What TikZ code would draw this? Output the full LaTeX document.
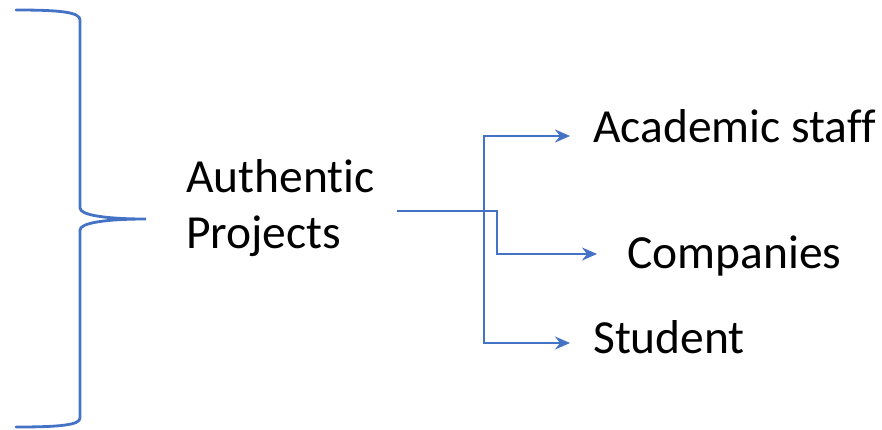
\documentclass[tikz,border=0pt]{standalone}
\usepackage{fontspec}
\setmainfont[Ligatures={NoCommon}]{Carlito}
\usepackage{xcolor}
\usetikzlibrary{arrows.meta,calc}
\definecolor{officeblue}{HTML}{4472C4}
\tikzset{
	lbl/.style={inner sep=0pt, anchor=base west, font=\fontsize{47.5}{56}\selectfont},
	link/.style={officeblue, line width=2.3pt, -{Stealth[length=15pt,width=13pt,inset=5pt]}},
	bracket/.style={officeblue, line width=2.8pt, line cap=round}
}

\begin{document}
\begin{tikzpicture}[x=1pt, y=-1pt]
			\useasboundingbox (0,0) rectangle (882,429);

			% left brace
			\draw[bracket] (16,10) .. controls (60,10) and (80,12) .. (80,20)
				-- (80,208) .. controls (80,215) and (105,219) .. (146,219)
				.. controls (105,219) and (80,223) .. (80,230)
				-- (80,418) .. controls (80,425) and (60,427) .. (16,427);

			\node[lbl, align=left] (proj) at (186,248) {Authentic\\Projects};
			\node[lbl] (acad) at (593,142) {Academic staff};
			\node[lbl] (comp) at (627,268) {Companies};
			\node[lbl] (stud) at (593,353) {Student};

			\coordinate (src) at (397,211);

			\draw[link]	(src) -- ++(87,0) |- ($(acad.base west)+(-23,-6)$);
			\draw[link]	(src) -- ++(100,0) |- ($(comp.base west)+(-30,-14)$);
			\draw[link]	(src) -- ++(87,0) |- ($(stud.base west)+(-23,-10)$);
		\end{tikzpicture}
\end{document}
